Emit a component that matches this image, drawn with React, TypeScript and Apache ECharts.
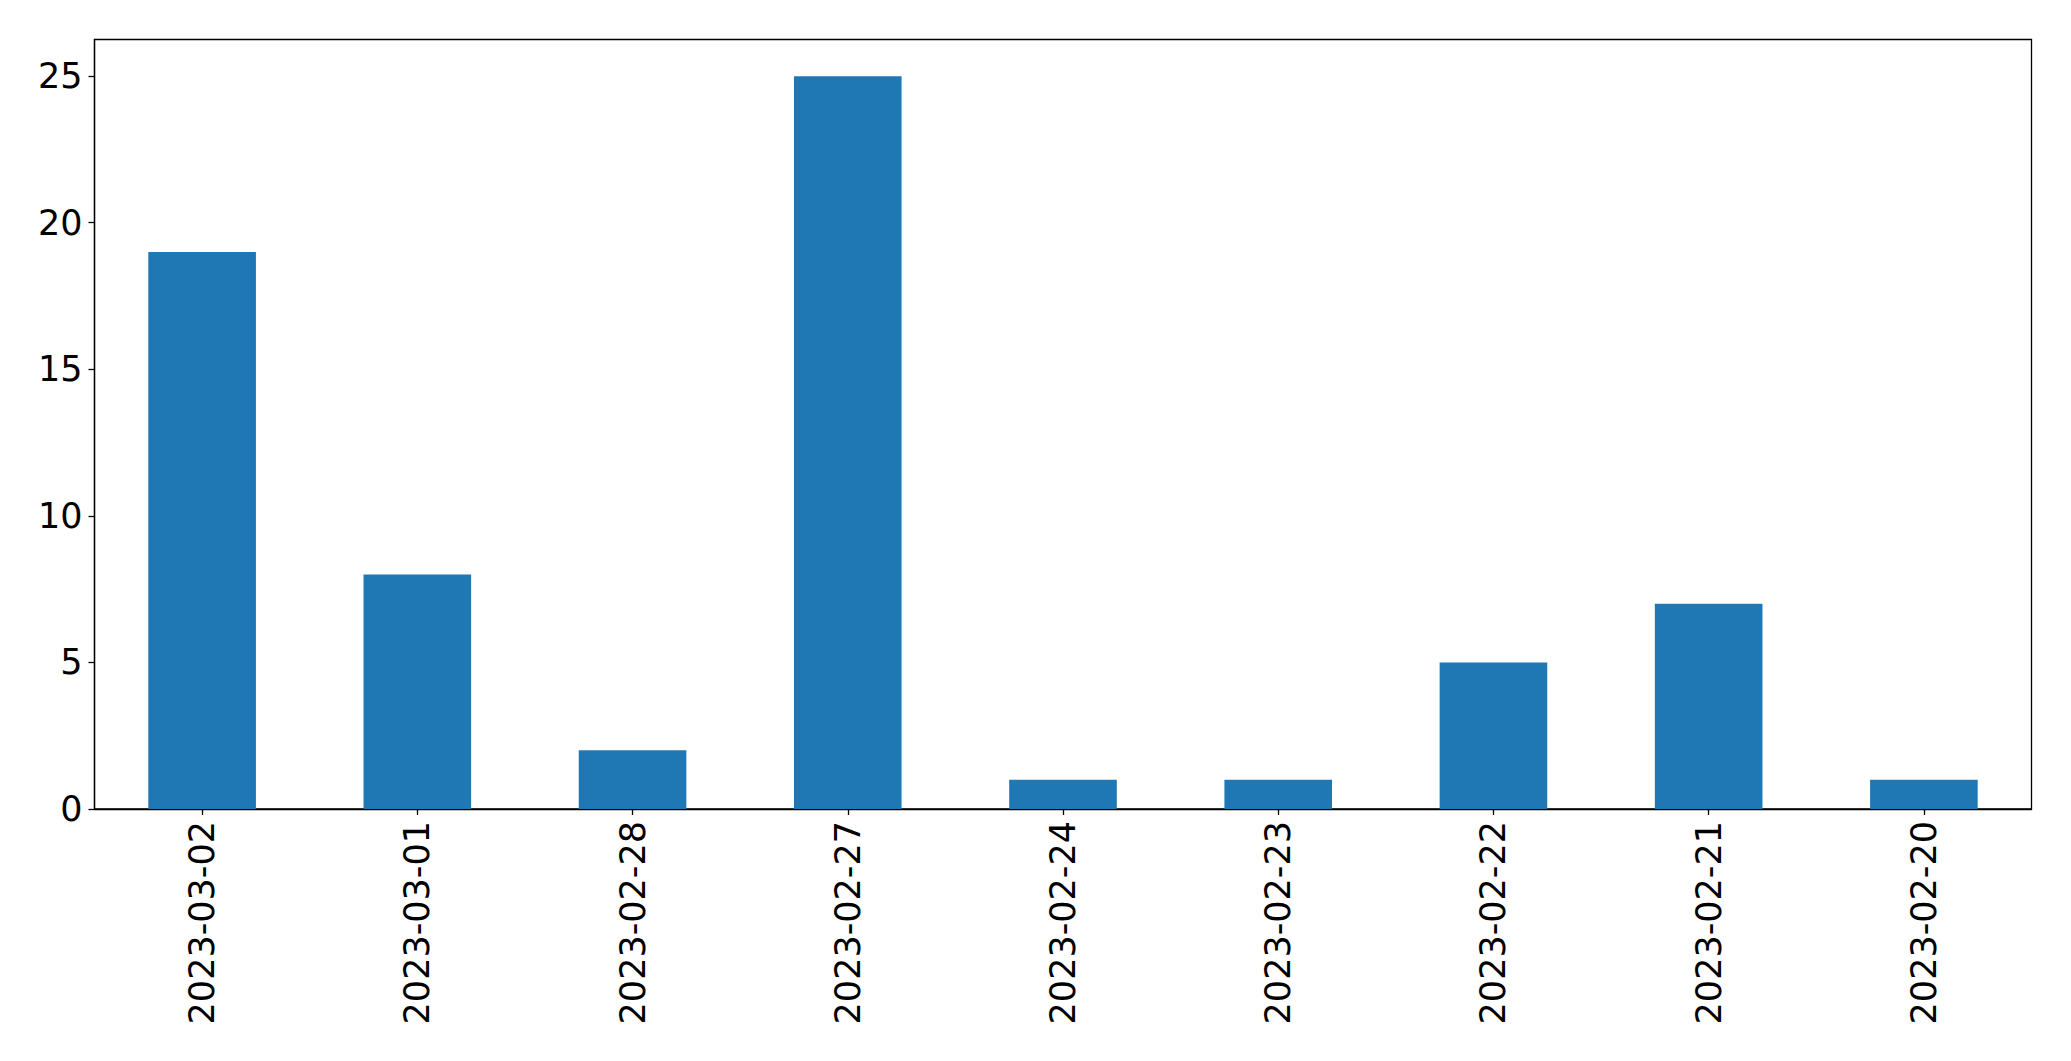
import React, { useEffect, useRef } from "react";
import * as echarts from "echarts";

const categories = [
  "2023-03-02",
  "2023-03-01",
  "2023-02-28",
  "2023-02-27",
  "2023-02-24",
  "2023-02-23",
  "2023-02-22",
  "2023-02-21",
  "2023-02-20",
];
const values = [19, 8, 2, 25, 1, 1, 5, 7, 1];
const yTicks = [0, 5, 10, 15, 20, 25];
const yMax = 26.25;

export default function App() {
  const ref = useRef<HTMLDivElement>(null);
  useEffect(() => {
    if (!ref.current) return;
    const chart = echarts.init(ref.current, undefined, { renderer: "svg" });
    const font = "DejaVu Sans";
    chart.setOption({
      animation: false,
      backgroundColor: "#ffffff",
      grid: {
        left: 94.5,
        right: 39.5,
        top: 39.5,
        bottom: 252,
        show: true,
        borderColor: "#000000",
        borderWidth: 1.3,
        backgroundColor: "transparent",
      },
      xAxis: {
        type: "category",
        data: categories,
        boundaryGap: true,
        axisLine: { show: true, lineStyle: { color: "#000", width: 1.3 } },
        axisTick: { show: true, alignWithLabel: true, length: 6, lineStyle: { color: "#000", width: 1.3 } },
        axisLabel: {
          rotate: 90,
          margin: 12,
          color: "#000",
          fontFamily: font,
          fontSize: 35,
        },
        splitLine: { show: false },
      },
      yAxis: {
        type: "value",
        min: 0,
        max: yMax,
        interval: 5,
        axisLine: { show: true, lineStyle: { color: "#000", width: 1.3 } },
        axisTick: { show: true, length: 6, lineStyle: { color: "#000", width: 1.3 }, customValues: yTicks },
        axisLabel: {
          margin: 12,
          color: "#000",
          fontFamily: font,
          fontSize: 35,
          customValues: yTicks,
        },
        splitLine: { show: false },
      },
      series: [
        {
          type: "bar",
          data: values,
          barWidth: "50%",
          itemStyle: { color: "#1f77b4" },
        },
      ],
    });
    return () => chart.dispose();
  }, []);
  return (
    <div
      ref={ref}
      style={{ position: "fixed", left: 0, top: 0, width: 2071, height: 1061, background: "#fff" }}
    />
  );
}
